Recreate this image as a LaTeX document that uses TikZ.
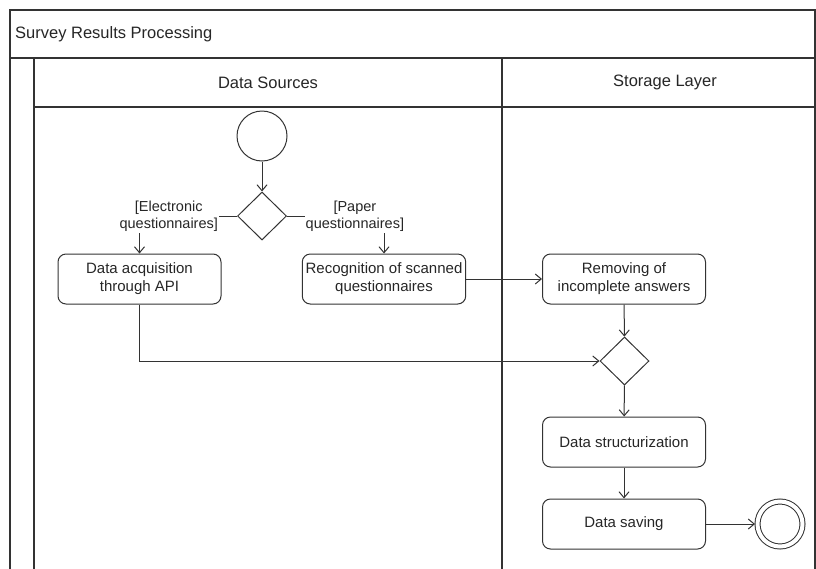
\documentclass[tikz,border=0pt]{standalone}
\usepackage{fontspec}
\setmainfont{Liberation Sans}
\usetikzlibrary{arrows.meta,shapes.geometric}

\begin{document}
\begin{tikzpicture}
[x=1pt,y=-1pt,
  laneLine/.style={draw=black!80,line width=1.1pt},%
  laneTitle/.style={text=black!85,inner sep=0pt,font=\fontsize{16.5}{20}\selectfont},%
  actionDecorate/.style={shape=rectangle,rounded corners=8pt,draw=black!80,line width=1pt,
    minimum width=163pt,minimum height=50pt,align=center,text=black!85,
    font=\fontsize{15}{18}\selectfont},%
  decisionDecorate/.style={shape=diamond,draw=black!80,line width=1pt,inner sep=0pt,
    minimum width=49pt,minimum height=48pt},%
  guardDecorate/.style={fill=white,inner sep=1pt,align=center,text=black!85,
    font=\fontsize{14.5}{17.5}\selectfont},%
  flowArrow/.style={draw=black!80,line width=1pt,-{Straight Barb[length=6pt,width=10pt]}}]
\useasboundingbox (0,0) rectangle (816,568);
\clip (0,0) rectangle (816,568);
%% pool and lanes
\draw[laneLine] (10,10) rectangle (815,590);
\draw[laneLine] (10,58) -- (815,58);
\draw[laneLine] (34,58) -- (34,590);
\draw[laneLine] (34,107) -- (815,107);
\draw[laneLine] (502,58) -- (502,590);
\node (pool) at (15,34) [laneTitle,anchor=west] {Survey Results Processing};
\node (sources) at (268,82.5) [laneTitle] {Data Sources};
\node (storage) at (665,82.5) [laneTitle] {Storage Layer};
%% start, end and decisions
\node (start) at (262,136) [shape=circle,draw=black!80,line width=1pt,minimum size=50pt] {};
\node (finish) at (780,524) [shape=circle,draw=black!80,line width=1pt,double,
  double distance=4pt,minimum size=45pt,outer sep=2.5pt] {};
\node (split) at (262,216) [decisionDecorate] {};
\node (merge) at (624.5,361) [decisionDecorate] {};
%% actions
\foreach \nodename/\x/\y/\caption in {
  acquire/139.5/279/{Data acquisition\\through API},
  recognize/384/279/{Recognition of scanned\\questionnaires},
  cleanup/624/279/{Removing of\\incomplete answers},
  structure/624/442/{Data structurization},
  save/624/524/{Data saving}}
{
  \node (\nodename) at (\x,\y) [actionDecorate] {\caption};
}
%% flows
\path
\foreach \startnode/\endnode in {start/split, recognize/cleanup, cleanup/merge,
  merge/structure, structure/save, save/finish}
{
  (\startnode) edge[flowArrow] (\endnode)
};
\draw[flowArrow] (split.west) -| node[guardDecorate,pos=0.35] {[Electronic\\questionnaires]} (acquire.north);
\draw[flowArrow] (split.east) -| node[guardDecorate,pos=0.35] {[Paper\\questionnaires]} (recognize.north);
\draw[flowArrow] (acquire.south) |- (merge.west);
\end{tikzpicture}
\end{document}
